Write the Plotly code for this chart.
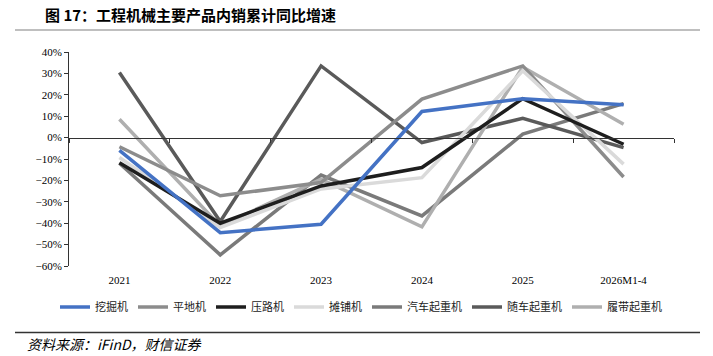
import plotly.graph_objects as go

categories = ["2021", "2022", "2023", "2024", "2025", "2026M1-4"]

excavator = [-0.06, -0.444, -0.405, 0.122, 0.182, 0.153]      # 挖掘机
grader = [-0.043, -0.272, -0.21, 0.18, 0.335, -0.184]          # 平地机
roller = [-0.117, -0.40, -0.226, -0.14, 0.182, -0.031]         # 压路机
paver = [-0.093, -0.42, -0.24, -0.187, 0.312, -0.124]          # 摊铺机
truck_crane = [-0.12, -0.548, -0.175, -0.366, 0.016, 0.159]    # 汽车起重机
loader_crane = [0.304, -0.392, 0.335, -0.023, 0.09, -0.047]    # 随车起重机
crawler_crane = [0.086, -0.413, -0.194, -0.417, 0.33, 0.062]   # 履带起重机

series_names = ["挖掘机", "平地机", "压路机", "摊铺机", "汽车起重机", "随车起重机", "履带起重机"]
series_values = [excavator, grader, roller, paver, truck_crane, loader_crane, crawler_crane]
colors = ["#4472C4", "#8C8C8C", "#1E1E1E", "#DADADA", "#7A7A7A", "#5A5A5A", "#AFAFAF"]

y_ticks = [0.4, 0.3, 0.2, 0.1, 0.0, -0.1, -0.2, -0.3, -0.4, -0.5, -0.6]

W, H = 713, 356
L, R, T, B = 69, 39, 52, 90
pw = W - L - R
ph = H - T - B

def px_x(x):
    return (x - L) / pw

def px_y(y):
    return (H - B - y) / ph

fig = go.Figure()
order = [4, 5, 6, 1, 3, 2, 0]
for i in range(len(series_names)):
    fig.add_trace(go.Scatter(
        x=categories, y=series_values[i], name=series_names[i],
        mode="lines", line=dict(color=colors[i], width=3.5),
        legendrank=i + 1,
    ))
fig.data = tuple(fig.data[k] for k in order)

fig.add_trace(go.Scatter(x=categories, y=[None] * 6, xaxis="x2", showlegend=False,
                         hoverinfo="skip"))

fig.update_layout(
    width=W, height=H,
    margin=dict(l=L, r=R, t=T, b=B),
    paper_bgcolor="white", plot_bgcolor="white",
    font=dict(family="Liberation Serif", size=11, color="#000"),
    xaxis=dict(
        type="category", showline=False, showgrid=False, zeroline=False,
        ticks="", ticklabelstandoff=6,
        tickfont=dict(family="Liberation Serif", size=11),
        range=[-0.5, 5.5],
    ),
    xaxis2=dict(
        type="category", overlaying="x", anchor="free", position=0.6,
        side="bottom", matches="x", showline=True, linecolor="#333", linewidth=1,
        ticks="outside", ticklen=4, tickcolor="#333", tickson="boundaries",
        showticklabels=False, showgrid=False, zeroline=False,
    ),
    yaxis=dict(
        range=[-0.6, 0.4], tickvals=y_ticks, tickformat=".0%",
        showline=True, linecolor="#333", linewidth=1,
        ticks="outside", ticklen=4, tickcolor="#333",
        showgrid=False, zeroline=False,
        tickfont=dict(family="Liberation Serif", size=11),
    ),
    legend=dict(
        orientation="h", x=px_x(55), y=px_y(307), yanchor="middle", xanchor="left",
        font=dict(family="Noto Sans CJK SC", size=11, color="#222"),
        itemwidth=30, tracegroupgap=0, traceorder="normal",
        bgcolor="rgba(0,0,0,0)",
    ),
    showlegend=True,
)

fig.add_annotation(
    text="<b>图 17：工程机械主要产品内销累计同比增速</b>",
    xref="paper", yref="paper", x=px_x(43), y=px_y(15), xanchor="left", yanchor="middle",
    showarrow=False, font=dict(family="Noto Sans CJK SC", size=15, color="#000"),
)
fig.add_annotation(
    text="<i>资料来源：iFinD，财信证券</i>",
    xref="paper", yref="paper", x=px_x(25), y=px_y(344), xanchor="left", yanchor="middle",
    showarrow=False, font=dict(family="Noto Sans CJK SC", size=14, color="#000"),
)
fig.add_shape(type="line", xref="paper", yref="paper",
              x0=px_x(15), x1=px_x(700), y0=px_y(30), y1=px_y(30),
              line=dict(color="#AAAAAA", width=1.5))
fig.add_shape(type="line", xref="paper", yref="paper",
              x0=px_x(15), x1=px_x(700), y0=px_y(332.5), y1=px_y(332.5),
              line=dict(color="#333333", width=1.5))

fig.write_html("out.html")
